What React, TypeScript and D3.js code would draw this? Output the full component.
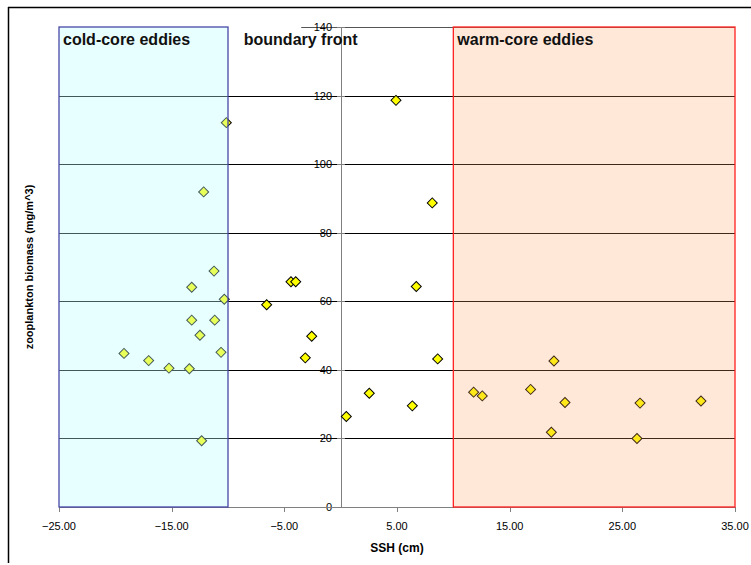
import React from "react";
import * as d3 from "d3";

const coldX = [-10.15, -12.16, -11.24, -13.22, -10.33, -13.22, -11.18, -12.49, -19.23, -10.62, -17.04, -15.24, -13.43, -12.34];
const coldY = [112.1, 91.9, 68.8, 64.1, 60.6, 54.5, 54.5, 50.1, 44.8, 45.1, 42.7, 40.5, 40.3, 19.3];
const frontX = [-4.41, -3.99, -6.57, -2.57, -3.14, 2.54, 0.5, 4.91, 8.13, 6.71, 8.61, 6.36];
const frontY = [65.7, 65.7, 59.0, 49.8, 43.5, 33.2, 26.4, 118.6, 88.7, 64.3, 43.2, 29.5];
const warmX = [18.93, 11.8, 12.57, 16.86, 19.91, 18.7, 26.57, 26.3, 31.98];
const warmY = [42.6, 33.5, 32.4, 34.3, 30.5, 21.8, 30.3, 20.0, 30.9];

const xTicks = [-25, -15, -5, 5, 15, 25, 35];
const yTicks = [0, 20, 40, 60, 80, 100, 120, 140];
const gridY = [20, 40, 60, 80, 100, 120];
const regions = [
  { name: "cold-core eddies", x0: -25, x1: -10, fill: "rgb(189,255,255)", opacity: 0.35, stroke: "#4848a8" },
  { name: "warm-core eddies", x0: 10, x1: 35, fill: "rgb(255,163,99)", opacity: 0.25, stroke: "#ff2020" },
];
const frontLabel = { name: "boundary front", x: -8.6 };

const W = 751;
const H = 565;
const left = 59, right = 735, top = 27, bottom = 507;

export default function App() {
  const x = d3.scaleLinear().domain([-25, 35]).range([left, right]);
  const y = d3.scaleLinear().domain([0, 140]).range([bottom, top]);
  const diamond = d3.symbol().type(d3.symbolSquare).size(50)() as string;
  const pts = [
    ...coldX.map((v, i) => [v, coldY[i]]),
    ...frontX.map((v, i) => [v, frontY[i]]),
    ...warmX.map((v, i) => [v, warmY[i]]),
  ];
  const font = "'Liberation Sans', Arial, sans-serif";
  return (
    <svg width={W} height={H} style={{ position: "absolute", left: 0, top: 0 }} fontFamily={font}>
      <rect x={0} y={0} width={W} height={H} fill="#fff" />
      {/* outer frame */}
      <line x1={8} y1={7.5} x2={W} y2={7.5} stroke="#000" strokeWidth={1.5} />
      <line x1={8.5} y1={7} x2={8.5} y2={563} stroke="#000" strokeWidth={1.5} />
      {/* gridlines */}
      {gridY.map((t) => (
        <line key={t} x1={left} x2={right} y1={Math.round(y(t)) + 0.5} y2={Math.round(y(t)) + 0.5} stroke="#000" strokeWidth={1} />
      ))}
      <line x1={x(-3.5)} x2={right} y1={Math.round(y(140)) + 0.5} y2={Math.round(y(140)) + 0.5} stroke="#555" strokeWidth={1} />
      {/* y axis at x=0 */}
      <line x1={Math.round(x(0)) + 0.5} x2={Math.round(x(0)) + 0.5} y1={top} y2={bottom} stroke="#808080" strokeWidth={1} />
      {yTicks.map((t) => (
        <g key={t}>
          <line x1={Math.round(x(0)) - 4} x2={Math.round(x(0)) + 4} y1={Math.round(y(t)) + 0.5} y2={Math.round(y(t)) + 0.5} stroke="#808080" />
          <text x={Math.round(x(0)) - 9} y={y(t) + 4} textAnchor="end" fontSize={11} fill="#000">{t}</text>
        </g>
      ))}
      {/* x axis */}
      <line x1={left} x2={right} y1={bottom + 0.5} y2={bottom + 0.5} stroke="#808080" />
      {xTicks.map((t) => (
        <g key={t}>
          <line x1={Math.round(x(t)) + 0.5} x2={Math.round(x(t)) + 0.5} y1={bottom} y2={bottom + 5} stroke="#808080" />
          <text x={x(t)} y={530} textAnchor="middle" fontSize={11} fill="#000">{d3.format(".2f")(t)}</text>
        </g>
      ))}
      {/* points */}
      {pts.map(([px, py], i) => (
        <path key={i} d={diamond} transform={`translate(${x(px)},${y(py)}) rotate(45)`} fill="#ffff00" stroke="#000" strokeWidth={1} />
      ))}
      {/* region boxes */}
      {regions.map((r) => (
        <g key={r.name}>
          <rect x={x(r.x0)} y={y(140)} width={x(r.x1) - x(r.x0)} height={y(0) - y(140)} fill={r.fill} fillOpacity={r.opacity} stroke={r.stroke} strokeWidth={1.3} />
          <text x={x(r.x0) + 4} y={45} fontSize={16} fontWeight="bold" fill="#111">{r.name}</text>
        </g>
      ))}
      <text x={x(frontLabel.x)} y={45} fontSize={16} fontWeight="bold" fill="#111">{frontLabel.name}</text>
      {/* axis titles */}
      <text x={(left + right) / 2} y={552} textAnchor="middle" fontSize={12} fontWeight="bold">SSH (cm)</text>
      <text transform={`translate(33,${(top + bottom) / 2}) rotate(-90)`} textAnchor="middle" fontSize={11} fontWeight="bold">zooplankton biomass (mg/m^3)</text>
    </svg>
  );
}
